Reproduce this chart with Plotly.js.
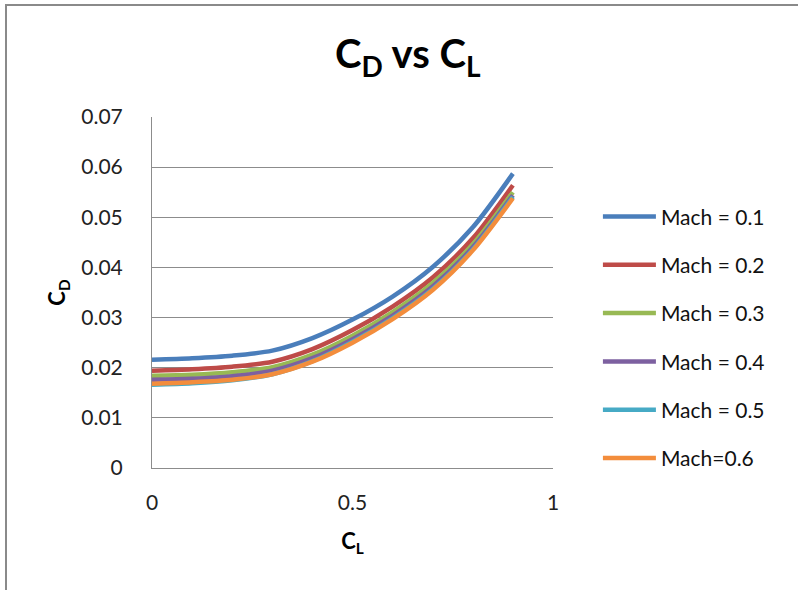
<!DOCTYPE html>
<html>
<head>
<meta charset="utf-8">
<script src="https://cdn.plot.ly/plotly-3.0.1.min.js"></script>
<style>
  html, body { margin: 0; padding: 0; background: #fff; }
  #wrap { position: relative; width: 798px; height: 590px; overflow: hidden; }
  #chart { position: absolute; left: 0; top: 0; width: 798px; height: 590px; }
  #frame { position: absolute; left: 5px; top: 4px; width: 900px; height: 700px;
           border-left: 2px solid #8a8a8a; border-top: 2px solid #8a8a8a; pointer-events: none; }
</style>
</head>
<body>
<div id="wrap">
  <div id="chart"></div>
  <div id="frame"></div>
</div>
<script>
const CL = [0, 0.1, 0.2, 0.3, 0.4, 0.5, 0.6, 0.7, 0.8, 0.9];
const seriesNames = ["Mach = 0.1", "Mach = 0.2", "Mach = 0.3", "Mach = 0.4", "Mach = 0.5", "Mach=0.6"];
const cdMach01 = [0.0216, 0.0219, 0.0224, 0.0234, 0.0259, 0.0296, 0.0342, 0.0401, 0.0480, 0.0587];
const cdMach02 = [0.0194, 0.0197, 0.0202, 0.0212, 0.0237, 0.0275, 0.0322, 0.0380, 0.0458, 0.0564];
const cdMach03 = [0.0184, 0.0186, 0.0191, 0.0201, 0.0226, 0.0264, 0.0311, 0.0369, 0.0446, 0.0550];
const cdMach04 = [0.0176, 0.0178, 0.0183, 0.0194, 0.0219, 0.0257, 0.0304, 0.0362, 0.0440, 0.0544];
const cdMach05 = [0.0166, 0.0169, 0.0175, 0.0187, 0.0213, 0.0252, 0.0299, 0.0357, 0.0436, 0.0541];
const cdMach06 = [0.0168, 0.0171, 0.0176, 0.0187, 0.0212, 0.0250, 0.0297, 0.0355, 0.0434, 0.0538];
const xTickVals = [0, 0.5, 1];
const xTickText = ["0", "0.5", "1"];
const yTickVals = [0, 0.01, 0.02, 0.03, 0.04, 0.05, 0.06, 0.07];
const yTickText = ["0", "0.01", "0.02", "0.03", "0.04", "0.05", "0.06", "0.07"];

const allSeries = [cdMach01, cdMach02, cdMach03, cdMach04, cdMach05, cdMach06];
const colors = ["#4A7EBB", "#BE4B48", "#98B954", "#7D60A0", "#46AAC5", "#F38D3C"];

const FONT = "Lato, 'Open Sans', sans-serif";

const traces = allSeries.map((ys, i) => ({
  type: "scatter",
  mode: "lines",
  x: CL,
  y: ys,
  name: seriesNames[i],
  legendgroup: "g" + i,
  line: { color: colors[i], width: 4.5, shape: "spline", smoothing: 0.8 },
  hoverinfo: "x+y+name"
}));

const layout = {
  width: 798,
  height: 590,
  margin: { l: 152, r: 245, t: 117, b: 122, pad: 0 },
  paper_bgcolor: "#ffffff",
  plot_bgcolor: "#ffffff",
  showlegend: true,
  title: {
    text: "<b>C<sub>D</sub> vs C<sub>L</sub></b>",
    font: { family: FONT, size: 40, color: "#000000" },
    x: 0.638, xref: "paper", xanchor: "center",
    y: 0.908, yref: "container", yanchor: "middle"
  },
  xaxis: {
    range: [0, 1],
    tickmode: "array",
    tickvals: xTickVals,
    ticktext: xTickText,
    showgrid: false,
    zeroline: false,
    showline: true,
    linecolor: "#8c8c8c",
    linewidth: 1,
    ticks: "",
    ticklabelstandoff: 16,
    tickfont: { family: FONT, size: 21, color: "#222222" },
    title: { text: "<b>C<sub>L</sub></b>", font: { family: FONT, size: 22, color: "#000000" }, standoff: 20 },
    fixedrange: true
  },
  yaxis: {
    range: [0, 0.07],
    tickmode: "array",
    tickvals: yTickVals,
    ticktext: yTickText,
    showgrid: true,
    gridcolor: "#8c8c8c",
    gridwidth: 1,
    zeroline: false,
    showline: true,
    linecolor: "#8c8c8c",
    linewidth: 1,
    ticks: "",
    ticklabelstandoff: 24,
    tickfont: { family: FONT, size: 21, color: "#222222" },
    title: { text: "<b>C<sub>D</sub></b>", font: { family: FONT, size: 22, color: "#000000" }, standoff: 9 },
    fixedrange: true
  },
  legend: {
    x: 1.112, xanchor: "left",
    y: 0.774, yanchor: "top",
    font: { family: FONT, size: 21, color: "#111111" },
    tracegroupgap: 18,
    itemwidth: 53,
    bgcolor: "rgba(0,0,0,0)"
  }
};

Plotly.newPlot("chart", traces, layout, { displayModeBar: false, staticPlot: false });
</script>
</body>
</html>
